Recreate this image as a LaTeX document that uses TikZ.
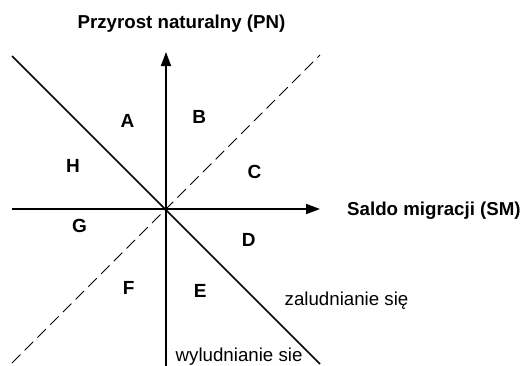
\documentclass[tikz,border=0pt]{standalone}
\usepackage{fontspec}
\setmainfont{Liberation Sans}
\usetikzlibrary{arrows.meta}
\begin{document}
\begin{tikzpicture}[x=1pt,y=-1pt,
  axis/.style={line width=1.6pt,-{Triangle[length=14pt,width=10pt]}},
  solidline/.style={line width=1.6pt},
  dashline/.style={line width=0.9pt,dash pattern=on 12pt off 6pt},
  region/.style={font=\fontsize{19}{20}\selectfont\bfseries,inner sep=0pt},
  axlabel/.style={font=\fontsize{18.7}{20}\selectfont\bfseries,inner sep=0pt},
  note/.style={font=\fontsize{18.7}{20}\selectfont,inner sep=0pt}]
\useasboundingbox (0,0) rectangle (523,365);
\coordinate (O) at (166,209);
\coordinate (xl) at (12,209);
\coordinate (xr) at (320,209);
\coordinate (yb) at (166,370);
\coordinate (yt) at (166,52);
\coordinate (s1) at (12,56);
\coordinate (s2) at (320,364);
\coordinate (d1) at (12,363);
\coordinate (d2) at (320,55);
\draw[dashline] (d1) -- (d2);
\draw[solidline] (s1) -- (s2);
\draw[axis] (xl) -- (xr);
\draw[axis] (yb) -- (yt);
\node[region] (A) at (127.5,120.8) {A};
\node[region] (B) at (199.3,116.7) {B};
\node[region] (C) at (254.5,171.7) {C};
\node[region] (D) at (248.8,239.8) {D};
\node[region] (E) at (200.3,290.8) {E};
\node[region] (F) at (128.7,287.5) {F};
\node[region] (G) at (79.5,225.8) {G};
\node[region] (H) at (73,166) {H};
\node[axlabel,anchor=base] (pn) at (181.5,28.4) {Przyrost naturalny (PN)};
\node[axlabel,anchor=base west] (sm) at (347,215) {Saldo migracji (SM)};
\node[note,anchor=base west] (zal) at (284.5,305) {zaludnianie się};
\node[note,anchor=base west] (wyl) at (175.5,361) {wyludnianie sie};
\end{tikzpicture}
\end{document}
